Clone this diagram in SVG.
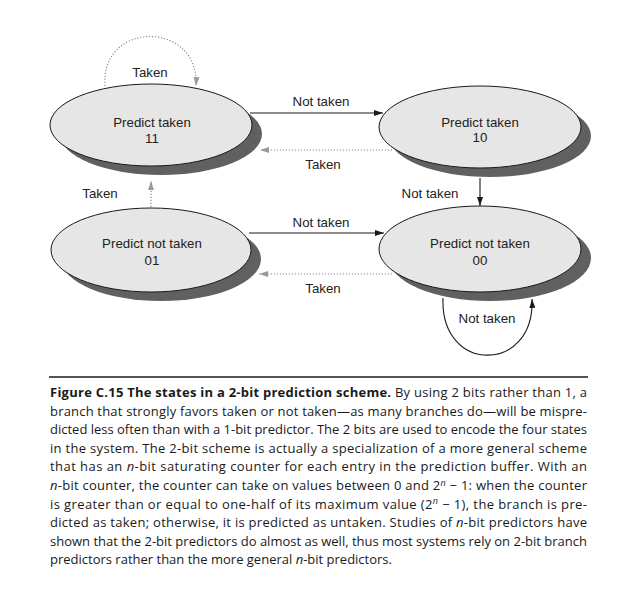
<svg xmlns="http://www.w3.org/2000/svg" width="636" height="603" viewBox="0 0 636 603">
<style>
.shadow{fill:#606060}
.state{fill:#e6e6e6;stroke:#1a1a1a;stroke-width:1}
.lbl{font-family:"Liberation Sans",Arial,sans-serif;font-size:13.3px;fill:#222;text-anchor:middle}
.solid{fill:none;stroke:#1a1a1a;stroke-width:1.1}
.dot{fill:none;stroke:#8a8a8a;stroke-width:1.2;stroke-dasharray:1.2 1.8}
.cap{font-family:"Open Sans","Noto Sans",sans-serif;font-size:13px;fill:#1a1a1a}
</style>
<defs>
<marker id="ab" markerWidth="10" markerHeight="8" refX="9" refY="4" orient="auto" markerUnits="userSpaceOnUse">
<path d="M0,1 L9,4 L0,7 Z" fill="#1a1a1a"/>
</marker>
<marker id="ag" markerWidth="10" markerHeight="8" refX="9" refY="4" orient="auto" markerUnits="userSpaceOnUse">
<path d="M0,1 L9,4 L0,7 Z" fill="#9a9a9a"/>
</marker>
</defs>
<rect width="636" height="603" fill="#fff"/>

<g id="s11">
<ellipse class="shadow" cx="161" cy="134" rx="101" ry="41"/>
<ellipse class="state" cx="151" cy="125" rx="101" ry="41"/>
<text class="lbl" x="152" y="127">Predict taken</text>
<text class="lbl" x="152" y="143">11</text>
</g>
<g id="s10">
<ellipse class="shadow" cx="490" cy="136" rx="101" ry="41"/>
<ellipse class="state" cx="480" cy="127" rx="101" ry="41"/>
<text class="lbl" x="480" y="127">Predict taken</text>
<text class="lbl" x="480" y="142">10</text>
</g>
<g id="s01">
<ellipse class="shadow" cx="161" cy="259" rx="100" ry="42"/>
<ellipse class="state" cx="151" cy="250" rx="100" ry="42"/>
<text class="lbl" x="152" y="248">Predict not taken</text>
<text class="lbl" x="152" y="265">01</text>
</g>
<g id="s00">
<ellipse class="shadow" cx="490" cy="258" rx="101" ry="43"/>
<ellipse class="state" cx="480" cy="249" rx="101" ry="43"/>
<text class="lbl" x="480" y="248">Predict not taken</text>
<text class="lbl" x="480" y="265">00</text>
</g>

<g id="connectors">
<path class="dot" d="M105,86 C100,20 200,20 196,86" marker-end="url(#ag)"/>
<text class="lbl" x="150" y="77">Taken</text>
<line class="solid" x1="250" y1="113" x2="383" y2="113" marker-end="url(#ab)"/>
<text class="lbl" x="321" y="106">Not taken</text>
<line class="dot" x1="392" y1="150" x2="260" y2="150" marker-end="url(#ag)"/>
<text class="lbl" x="323" y="169">Taken</text>
<line class="dot" x1="151" y1="207" x2="151" y2="181" marker-end="url(#ag)"/>
<text class="lbl" x="100" y="198">Taken</text>
<line class="solid" x1="480" y1="178" x2="480" y2="206" marker-end="url(#ab)"/>
<text class="lbl" x="430" y="198">Not taken</text>
<line class="solid" x1="249" y1="233" x2="384" y2="233" marker-end="url(#ab)"/>
<text class="lbl" x="321" y="227">Not taken</text>
<line class="dot" x1="392" y1="274" x2="259" y2="274" marker-end="url(#ag)"/>
<text class="lbl" x="323" y="293">Taken</text>
<path class="solid" d="M443,298 C440,374 535,374 532,299" marker-end="url(#ab)"/>
<text class="lbl" x="487" y="323">Not taken</text>
</g>

<g id="caption">
<line x1="49" y1="377" x2="588" y2="377" stroke="#1a1a1a" stroke-width="1.5"/>
<text class="cap" x="50" y="397" textLength="537"><tspan font-weight="bold">Figure C.15  The states in a 2-bit prediction scheme.</tspan> By using 2 bits rather than 1, a</text>
<text class="cap" x="50" y="415.6" textLength="537">branch that strongly favors taken or not taken—as many branches do—will be mispre-</text>
<text class="cap" x="50" y="434.2" textLength="537">dicted less often than with a 1-bit predictor. The 2 bits are used to encode the four states</text>
<text class="cap" x="50" y="452.8" textLength="537">in the system. The 2-bit scheme is actually a specialization of a more general scheme</text>
<text class="cap" x="50" y="471.4" textLength="537">that has an <tspan font-style="italic">n</tspan>-bit saturating counter for each entry in the prediction buffer. With an</text>
<text class="cap" x="50" y="490" textLength="537"><tspan font-style="italic">n</tspan>-bit counter, the counter can take on values between 0 and 2<tspan font-style="italic" font-size="9px" dy="-4.5">n</tspan><tspan dy="4.5"> − 1: when the counter</tspan></text>
<text class="cap" x="50" y="508.6" textLength="537">is greater than or equal to one-half of its maximum value (2<tspan font-style="italic" font-size="9px" dy="-4.5">n</tspan><tspan dy="4.5"> − 1), the branch is pre-</tspan></text>
<text class="cap" x="50" y="527.2" textLength="537">dicted as taken; otherwise, it is predicted as untaken. Studies of <tspan font-style="italic">n</tspan>-bit predictors have</text>
<text class="cap" x="50" y="545.8" textLength="537">shown that the 2-bit predictors do almost as well, thus most systems rely on 2-bit branch</text>
<text class="cap" x="50" y="564.4">predictors rather than the more general <tspan font-style="italic">n</tspan>-bit predictors.</text>
</g>
</svg>
